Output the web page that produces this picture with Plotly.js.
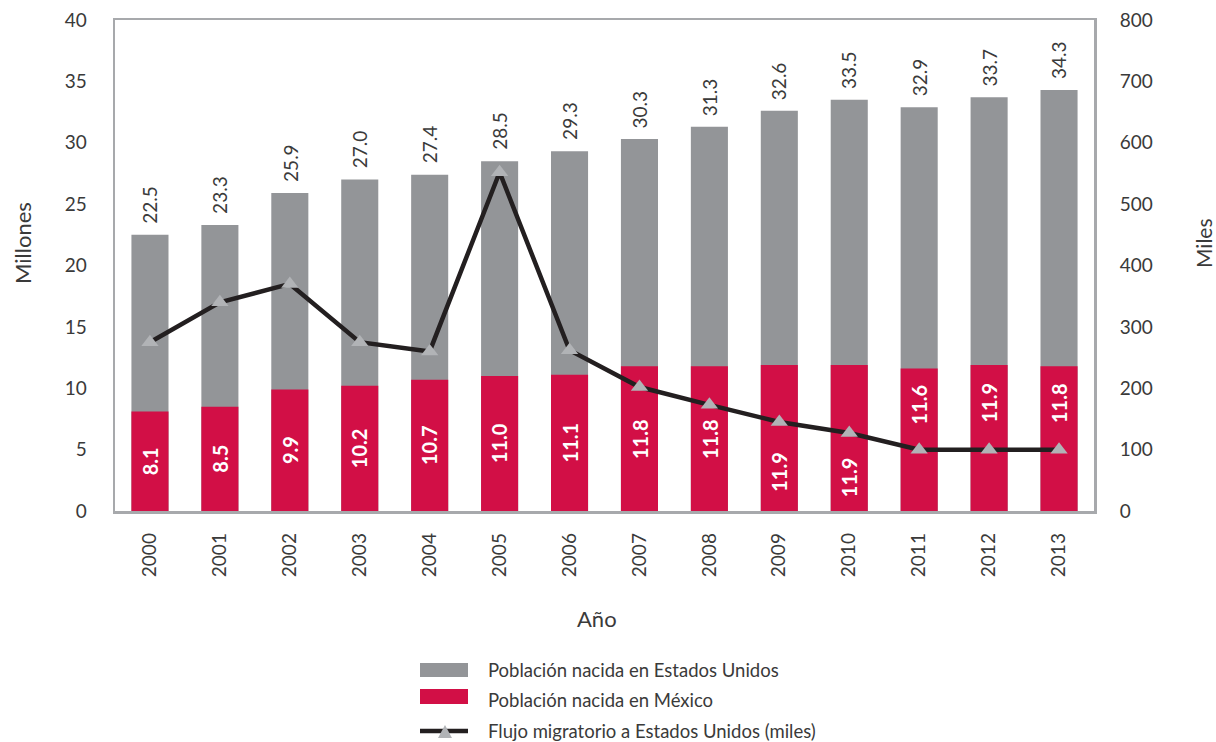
<!DOCTYPE html>
<html>
<head>
<meta charset="utf-8">
<script src="https://cdn.plot.ly/plotly-3.0.1.min.js"></script>
<style>html,body{margin:0;padding:0;background:#fff;}#chart{width:1216px;height:742px;}</style>
</head>
<body>
<div id="chart"></div>
<script>
const years = ['2000','2001','2002','2003','2004','2005','2006','2007','2008','2009','2010','2011','2012','2013'];
const totalPop = [22.5,23.3,25.9,27.0,27.4,28.5,29.3,30.3,31.3,32.6,33.5,32.9,33.7,34.3];
const mexPop = [8.1,8.5,9.9,10.2,10.7,11.0,11.1,11.8,11.8,11.9,11.9,11.6,11.9,11.8];
const flujo = [275,340,370,275,260,552,262,202,173,145,127,100,100,100];
const seriesNames = ['Población nacida en Estados Unidos','Población nacida en México','Flujo migratorio a Estados Unidos (miles)'];
const axisTitles = {left:'Millones', right:'Miles', x:'Año'};

const GRAY = '#939598', RED = '#d20f46', LINE = '#231f20', MARK = '#b1b3b6', TXT = '#3a3a3a';
const FONT = 'Lato, "Open Sans", sans-serif';

// plot geometry (pixels)
const W = 1216, H = 742, L = 115, R = 1094, T = 20, B = 511;
const px = x => (x - L) / (R - L);
const py = y => (B - y) / (B - T);
const Y1MAX = 40, Y2MAX = 800;

const traces = [
  {type:'bar', x:years, y:totalPop, name:seriesNames[0], marker:{color:GRAY}, hoverinfo:'y'},
  {type:'bar', x:years, y:mexPop, name:seriesNames[1], marker:{color:RED}, hoverinfo:'y'},
  {type:'scatter', mode:'lines+markers', x:years, y:flujo, yaxis:'y2', name:seriesNames[2],
   line:{color:LINE, width:4.5}, marker:{symbol:'triangle-up', size:15, color:MARK}, cliponaxis:false}
];

const annotations = [];
// value labels above the gray bars (x given as category index)
years.forEach((yr,i)=>{
  annotations.push({x:i, y:totalPop[i], xref:'x', yref:'y', text:totalPop[i].toFixed(1), textangle:-90,
    showarrow:false, xanchor:'center', yanchor:'bottom', yshift:9,
    font:{family:FONT, size:19, color:TXT}});
});
// value labels inside the red bars, moved clear of the line where they would cross it
years.forEach((yr,i)=>{
  const lineY = flujo[i] * Y1MAX / Y2MAX;
  let c = mexPop[i] / 2;
  if (Math.abs(lineY - c) < 2.5) {
    c = (lineY >= c) ? (lineY - 0.8) / 2 : (lineY + 0.8 + mexPop[i]) / 2;
  }
  annotations.push({x:i, y:c, xref:'x', yref:'y', text:mexPop[i].toFixed(1), textangle:-90,
    showarrow:false, xanchor:'center', yanchor:'middle',
    font:{family:FONT, size:20, color:'#ffffff', weight:700}});
});

const legendY = [670, 700, 731];
const shapes = [
  {type:'rect', xref:'paper', yref:'paper', x0:px(420), x1:px(468), y0:py(677), y1:py(663), fillcolor:GRAY, line:{width:0}},
  {type:'rect', xref:'paper', yref:'paper', x0:px(420), x1:px(468), y0:py(704), y1:py(689), fillcolor:RED, line:{width:0}},
  {type:'line', xref:'paper', yref:'paper', x0:px(420), x1:px(468), y0:py(731), y1:py(731), line:{color:LINE, width:4.5}},
  {type:'path', xref:'paper', yref:'paper',
   path:`M ${px(438)} ${py(738)} L ${px(452)} ${py(738)} L ${px(445)} ${py(725)} Z`, fillcolor:MARK, line:{width:0}}
];
seriesNames.forEach((n,i)=>annotations.push({
  xref:'paper', yref:'paper', x:px(486), y:py(legendY[i]), xanchor:'left', yanchor:'middle',
  text:n, showarrow:false, font:{family:FONT, size:18.5, color:TXT}
}));
annotations.push(
  {xref:'paper', yref:'paper', x:px(22), y:py(243), text:axisTitles.left, textangle:-90, showarrow:false,
   xanchor:'center', yanchor:'middle', font:{family:FONT, size:22, color:TXT}},
  {xref:'paper', yref:'paper', x:px(1203), y:py(243), text:axisTitles.right, textangle:-90, showarrow:false,
   xanchor:'center', yanchor:'middle', font:{family:FONT, size:21, color:TXT}},
  {xref:'paper', yref:'paper', x:px(597), y:py(618), text:axisTitles.x, showarrow:false,
   xanchor:'center', yanchor:'middle', font:{family:FONT, size:22, color:TXT}}
);

const tickFont = {family:FONT, size:19, color:TXT};
const layout = {
  width:W, height:H, margin:{l:L, r:W-R, t:T, b:H-B, pad:0},
  paper_bgcolor:'#fff', plot_bgcolor:'#fff',
  barmode:'overlay', bargap:0.47, showlegend:false,
  font:{family:FONT, color:TXT},
  xaxis:{type:'category', range:[-0.5, 13.5], tickangle:-90, tickfont:tickFont,
         showline:true, mirror:true, linecolor:'#a7a9ac', linewidth:2.5, showgrid:false,
         ticks:'outside', ticklen:12, tickcolor:'rgba(0,0,0,0)', zeroline:false},
  yaxis:{range:[0,Y1MAX], dtick:5, tickfont:tickFont,
         showline:true, mirror:true, linecolor:'#a7a9ac', linewidth:2.5, showgrid:false, zeroline:false,
         ticks:'outside', ticklen:22, tickcolor:'rgba(0,0,0,0)'},
  yaxis2:{range:[0,Y2MAX], dtick:100, overlaying:'y', side:'right', showgrid:false, zeroline:false,
          tickfont:tickFont, ticks:'outside', ticklen:21, tickcolor:'rgba(0,0,0,0)', showline:false},
  shapes:shapes, annotations:annotations
};

Plotly.newPlot('chart', traces, layout, {displayModeBar:false, staticPlot:true});
</script>
</body>
</html>
